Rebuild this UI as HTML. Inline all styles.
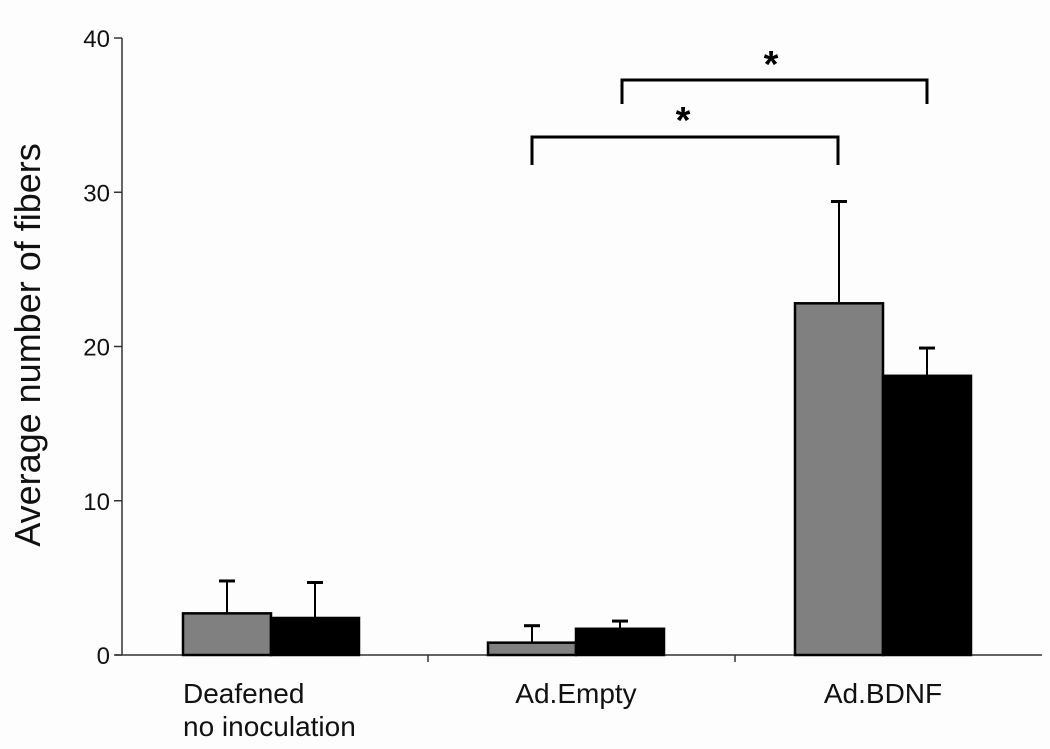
<!DOCTYPE html>
<html><head><meta charset="utf-8"><style>
body{margin:0;background:#fdfdfd}
svg{display:block;font-family:"Liberation Sans",sans-serif}
</style></head><body>
<svg id="chart" width="1050" height="749">
<rect width="1050" height="749" fill="#fdfdfd"/>
<g id="axes"></g>
<g id="bars"></g>
<g id="brackets"></g>
</svg>
<script>
const categories=["Deafened|no inoculation","Ad.Empty","Ad.BDNF"];
const grayValues=[2.7,0.8,22.8];
const grayErrors=[2.1,1.1,6.6];
const blackValues=[2.4,1.7,18.1];
const blackErrors=[2.3,0.5,1.8];
const yTicks=[0,10,20,30,40];
const NS="http://www.w3.org/2000/svg";
const y0=655,yTop=38,yMax=40;
function y(v){return y0-(v/yMax)*(y0-yTop);}
const groupLeft=[183,488,795],barW=88;
function mk(tag,attrs,parent){const e=document.createElementNS(NS,tag);for(const k in attrs)e.setAttribute(k,attrs[k]);parent.appendChild(e);return e;}
const axes=document.getElementById('axes'),bars=document.getElementById('bars'),br=document.getElementById('brackets');
const ya=mk('line',{x1:122,y1:yTop,x2:122,y2:y0,stroke:'#333','stroke-width':1.5},axes);


const xa=mk('line',{x1:115,y1:y0,x2:1042,y2:y0,stroke:'#333','stroke-width':1.5},axes);


[428,735].forEach(x=>{mk('line',{x1:x,y1:y0,x2:x,y2:y0+7,stroke:'#333','stroke-width':1.5},axes);});
yTicks.forEach(t=>{
  mk('line',{x1:114,y1:y(t),x2:122,y2:y(t),stroke:'#333','stroke-width':1.5},axes);
  const tx=mk('text',{x:110,y:y(t)+9,'text-anchor':'end','font-size':24,fill:'#111'},axes);
  tx.textContent=t;
  
  
});
const yl=mk('text',{x:0,y:0,transform:'translate(40,345) rotate(-90)','text-anchor':'middle','font-size':36,fill:'#111'},axes);
yl.textContent="Average number of fibers";


categories.forEach((c,i)=>{
  const parts=c.split('|');
  const cx=groupLeft[i]+barW;
  parts.forEach((p,j)=>{
    const t=mk('text',{x:parts.length>1?groupLeft[i]:cx,y:703+j*33,'text-anchor':parts.length>1?'start':'middle','font-size':28,fill:'#111'},axes);
    t.textContent=p;
    
    
  });
  [[grayValues,grayErrors,'#808080',0],[blackValues,blackErrors,'#000',1]].forEach(([vals,errs,col,k])=>{
    const x=groupLeft[i]+k*barW;
    const r=mk('rect',{x:x,y:y(vals[i]),width:barW,height:y0-y(vals[i]),fill:col,stroke:'#000','stroke-width':2.5},bars);
    
    
    const cx2=x+barW/2,ye=y(vals[i]+errs[i]);
    mk('line',{x1:cx2,y1:y(vals[i]),x2:cx2,y2:ye,stroke:'#000','stroke-width':2},bars);
    const cap=mk('line',{x1:cx2-8,y1:ye,x2:cx2+8,y2:ye,stroke:'#000','stroke-width':3},bars);
    
    
  });
});
[[532,838,137,165,683,133],[622,927,80,104,771,77]].forEach(([a,b,h,d,sx,sy])=>{
  const p=mk('path',{d:`M${a},${d}V${h}H${b}V${d}`,fill:'none',stroke:'#000','stroke-width':3},br);
  
  
  const s=mk('text',{x:sx,y:sy,'text-anchor':'middle','font-size':38,'font-weight':'bold',fill:'#000'},br);
  s.textContent='*';
  
  
});
</script>
</body></html>
